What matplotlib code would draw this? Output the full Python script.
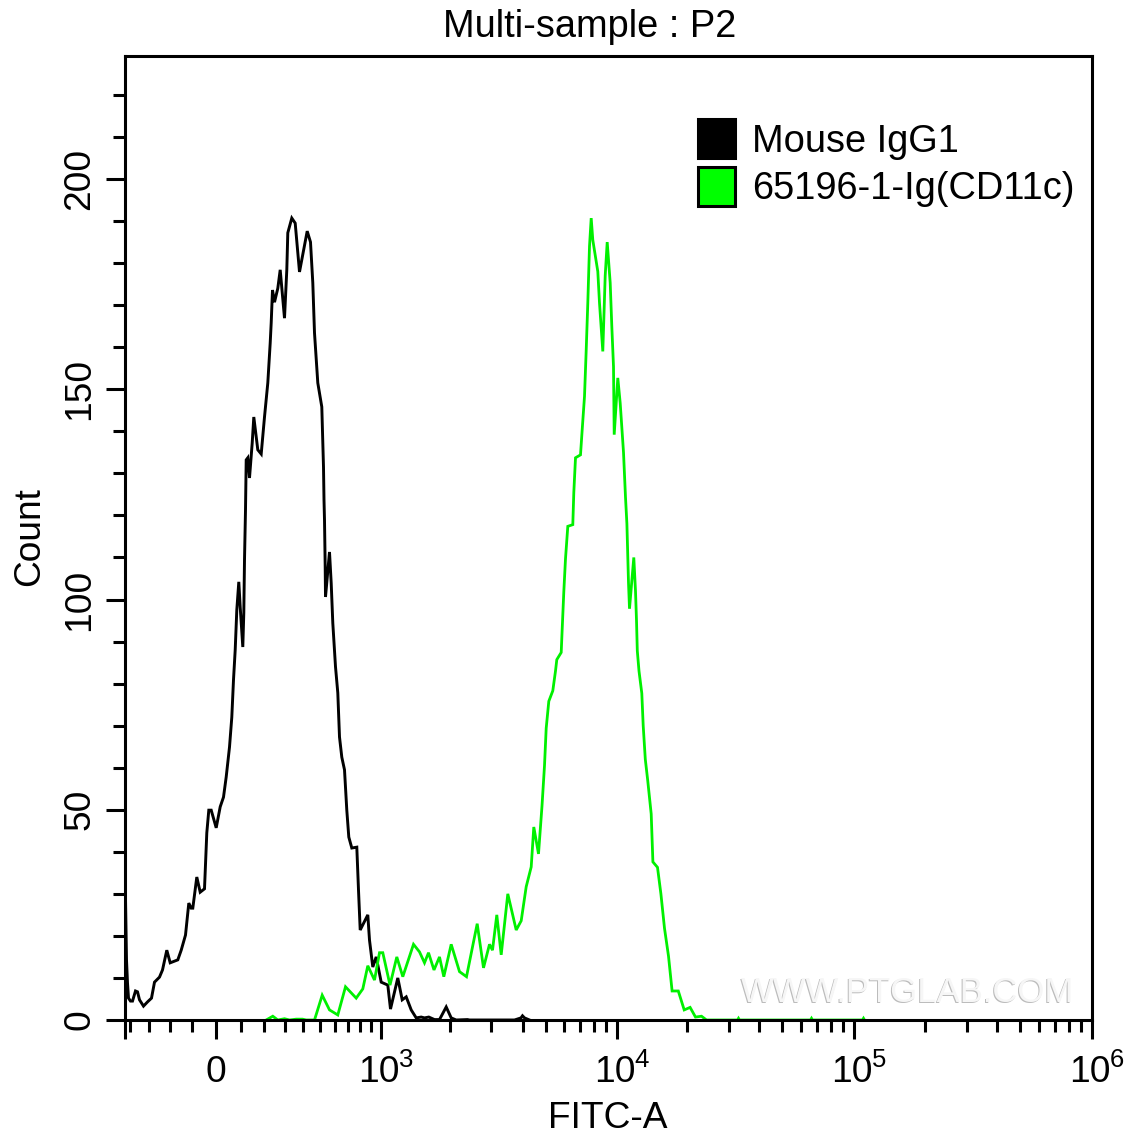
import matplotlib
matplotlib.use("Agg")
import matplotlib.pyplot as plt
from matplotlib.patches import Patch

plt.rcParams["font.family"] = ["Liberation Sans", "DejaVu Sans"]

# ----------------------------------------
# Histogram data: display channel / count
# ----------------------------------------
igg_channel = [0.7, 2, 3, 4, 6, 8, 11, 13, 15, 19, 23, 27, 30, 35, 38, 42.3, 45.7, 53.3, 56.7, 61,
               64.3, 66.7, 68.3, 72.3, 75.7, 80, 82.3, 84.3, 86.7, 91.7, 95.7, 99, 101.7, 105, 107.3,
               109, 110.7, 112.3, 114.3, 115.7, 118.3, 119.3, 120, 121, 121.7, 123.3, 125, 127.7, 129.3,
               133.3, 136.7, 140, 143.3, 145.7, 146.7, 148, 150, 153.3, 155.7, 160, 162.3, 163.3, 167.3,
               170.7, 175, 182.7, 186, 188.3, 190, 193.3, 197.3, 199, 199.5, 200, 200.7, 201, 205, 206.7,
               208.3, 211, 213.3, 215, 217.3, 220, 222.3, 224.3, 227.3, 232.3, 234, 235.7, 243.3, 245,
               248.3, 251.7, 256.7, 263.3, 266, 273.3, 277.7, 281.7, 286.7, 291.7, 296.7, 300, 304.3,
               310, 315, 321.7, 326.7, 331.7, 343, 345, 390, 396.5, 398, 400, 405]
igg_count = [33.3, 14.3, 8.8, 5.2, 4.5, 4.5, 6.9, 6.7, 4.8, 3.3, 4.3, 5.2, 9, 10.2, 11.9, 16.6, 13.6, 14.3, 16.6, 20.2,
             27.8, 26.6, 26.6, 34, 30.4, 31.2, 44.5, 49.9, 49.9, 45.7, 50.7, 53, 57.8, 64.9, 72,
             80.9, 88, 97.5, 104.2, 98.2, 88.7, 96.8, 109.4, 121.3, 133.2, 133.7, 128.9, 137.2, 143.4,
             135.6, 134.6, 143.4, 151.5, 161, 165.8, 173.6, 170.7, 174, 178.4, 166.9, 178.4, 187.2, 190.7,
             189.5, 177.9, 187.6, 185, 175.3, 163.4, 151.5, 145.8, 131.5, 123.7, 118.9, 107.7, 100.6, 111.3, 103.9,
             94.4, 84, 77.8, 67.3, 62.5, 59.5, 49.9, 43.5, 40.9, 41.1, 30.9, 21.4, 25, 19,
             12.6, 15, 9, 8.3, 2.6, 10, 4.8, 5.5, 2.4, 0.5, 0.7, 0.5, 0.7,
             0.1, 0.1, 3.1, 0.5, 0, 0.1, 0, 0, 0.5, 1, 0.5, 0]

cd11c_channel = [141.7, 148.3, 153.3, 160, 165, 171.7, 178, 181.7, 190, 197.7, 205, 213.3, 221, 231.7, 238.3,
                 243.3, 250, 255, 258.3, 265.5, 272.3, 278.3, 289, 295, 300, 304, 309.5, 315, 319.3, 326.7,
                 335, 342, 352.7, 359, 365, 368, 372.3, 376.7, 383.3, 391.7, 396.7, 401.7, 406.7, 409.3, 414,
                 417.5, 420, 421.7, 424.3, 428.3, 431, 432.3, 436.7, 437.7, 439.3, 441, 443.3, 448.3, 449.3,
                 451, 456, 457.7, 460, 461.7, 463.3, 465, 466.7, 468.3, 473.3, 475, 478.3, 480.7, 482.7,
                 485.7, 487.3, 489, 489.7, 493.3, 495.7, 499, 501, 502.4, 504, 505, 509.3, 511, 512, 512.8,
                 514.5, 517.3, 518.7, 520.8, 523.2, 526.7, 528.4, 533, 536.4, 540, 544, 547.6, 553.8, 559.7,
                 565.6, 571, 577, 582, 613, 614, 615, 686, 687, 688, 738, 739, 740]
cd11c_count = [0, 0.9, 0, 0.3, 0, 0.2, 0.2, 0, 0, 5.9, 2.4, 1.2, 7.9, 5.2, 7.4, 12.9, 9.5, 16, 16, 8.3, 15, 10.3,
               18, 16.2, 13.6, 16, 11.9, 15, 10.3, 18, 11.5, 10.3, 22.9, 12.4, 18, 16.6, 25, 15.5, 30, 21.4,
               23.6, 31.7, 36.4, 45.9, 39.5, 50.9, 60.5, 69.4, 75.8, 78.3, 83, 85.7, 87.4, 93, 101.8, 109.7,
               117.4, 117.8, 125.4, 133.7, 134.4, 140.4, 148.3, 159.3, 170.5, 184, 190.7, 185.5, 178, 170.5,
               159, 177, 185, 175.3, 165, 155.4, 139.2, 152.7, 146.7, 135, 124.3, 118, 104, 97.8, 110, 102, 95,
               87.8, 83, 77.7, 70, 62, 57, 49, 37.6, 36.3, 30, 21.8, 15.2, 6.9, 6.9, 2.4, 3, 0.7, 0.9, 0, 0,
               0.4, 0, 0, 0.4, 0, 0, 0.4, 0]

legend_labels = ["Mouse IgG1", "65196-1-Ig(CD11c)"]

# ----------------------------------------
# Axis ticks (biexponential display, in channels)
# ----------------------------------------
x_major = [0.7, 91.7, 256.7, 492, 729.3, 967.3]
x_major_labels = ["", "0", "10", "10", "10", "10"]
x_exponents = ["", "", "3", "4", "5", "6"]
x_minor = [5, 24, 45, 67.3, 116.3, 139, 160, 178.3, 195.7, 210.7, 223.7, 235, 246.7,
           325, 366.7, 398.4, 421.2, 439.8, 455.5, 469.2, 481.2,
           562.3, 604.3, 634.3, 657.3, 676.3, 692.3, 706, 718.3,
           800.7, 842.3, 872.3, 895.3, 914.3, 930.3, 944, 956.3]
y_major = [0, 50, 100, 150, 200]
y_minor = [10, 20, 30, 40, 60, 70, 80, 90, 110, 120, 130, 140, 160, 170, 180, 190, 210, 220]

FONT = 26.7
PX = 0.72   # points per pixel at dpi 100
W, H = 1140, 1137

fig = plt.figure(figsize=(W / 100, H / 100), dpi=100)
ax = fig.add_axes([125 / W, 1 - 1020 / H, 967 / W, 964 / H])

ax.plot(igg_channel, igg_count, color="black", lw=2.1, solid_joinstyle="miter")
ax.plot(cd11c_channel, cd11c_count, color="#00f000", lw=2.0, solid_joinstyle="miter")

ax.set_xlim(0.5, 967.5)
ax.set_ylim(0, 964 / 4.205)

for s in ax.spines.values():
    s.set_linewidth(2.2)

ax.set_xticks(x_major)
ax.set_xticklabels([])
ax.set_xticks(x_minor, minor=True)
ax.set_yticks(y_major)
ax.set_yticks(y_minor, minor=True)
ax.tick_params(axis="both", which="major", length=13.5, width=2.2)
ax.tick_params(axis="both", which="minor", length=8.6, width=2.2)
ax.tick_params(axis="y", which="major", labelsize=FONT, labelrotation=90, pad=6.5)
for lab in ax.get_yticklabels():
    lab.set_va("center")

# decade labels: "10" plus a smaller exponent, "0" sits right on its tick
for pos, base, exp in zip(x_major, x_major_labels, x_exponents):
    shift = -2 if exp else 0
    ax.annotate(base, xy=(pos, 0), xycoords=("data", "axes fraction"), xytext=(shift * PX, -62 * PX),
                textcoords="offset points", ha="center", va="baseline", fontsize=FONT)
    if exp:
        ax.annotate(exp, xy=(pos, 0), xycoords=("data", "axes fraction"), xytext=(18 * PX, -47 * PX),
                    textcoords="offset points", ha="left", va="baseline", fontsize=18.5)

fig.text(589.5 / W, 1 - 37 / H, "Multi-sample : P2", ha="center", va="baseline", fontsize=27.4)
fig.text(608 / W, 1 - 1128 / H, "FITC-A", ha="center", va="baseline", fontsize=FONT)
fig.text(30 / W, 1 - 537 / H, "Count", ha="center", va="center", rotation=90, fontsize=FONT)

handles = [Patch(facecolor="black", edgecolor="black", lw=2.2),
           Patch(facecolor="#00ff00", edgecolor="black", lw=2.2)]
ax.legend(handles, legend_labels, loc="upper left", bbox_to_anchor=(698.2 / W, 1 - 119.5 / H),
          bbox_transform=fig.transFigure, frameon=False, fontsize=27.4, borderpad=0, borderaxespad=0,
          handlelength=0.97, handleheight=1.18, handletextpad=0.44, labelspacing=0.2)

# embossed watermark
ax.text(907 / W, 1 - 1003 / H, "WWW.PTGLAB.COM", transform=fig.transFigure, ha="center", va="baseline",
        fontsize=25, color="#bcbcbc")
ax.text(908 / W, 1 - 1002 / H, "WWW.PTGLAB.COM", transform=fig.transFigure, ha="center", va="baseline",
        fontsize=25, color="#f6f6f6")

fig.savefig("out.png", dpi=100)
